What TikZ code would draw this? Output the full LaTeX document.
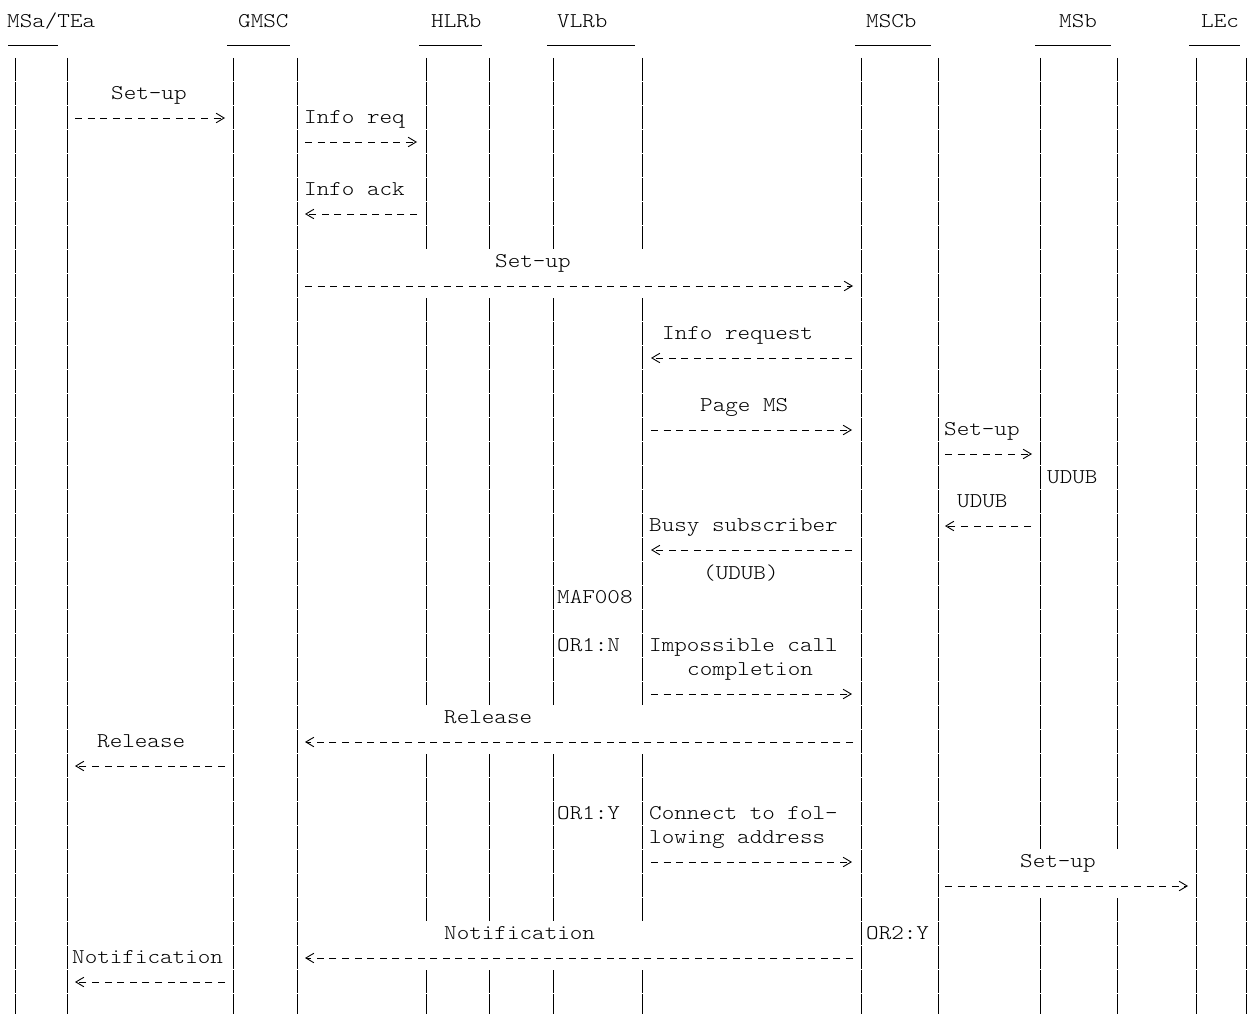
\documentclass[tikz,border=0pt]{standalone}
\usepackage{fontspec}
\usetikzlibrary{arrows.meta}
\newfontfamily\monofont[FakeStretch=1.14]{lmmonolt10-regular.otf}

\begin{document}
\begin{tikzpicture}
	[
		x=1pt, y=-1pt,
		% Make a style for the vertical lines of the columns.
		col/.style={line width=0.8pt, dash pattern=on 23pt off 1pt},
		% And one for the short rule under each heading.
		rule/.style={line width=1pt},
		% Typewriter text, placed by its baseline.
		txt/.style={anchor=base west, inner sep=0pt, font=\monofont\fontsize{21}{24}\selectfont},
		% A dashed message arrow.
		msg/.style={line width=0.9pt, dash pattern=on 7pt off 5.6pt, -{Straight Barb[length=8pt,width=9.5pt]}}
	]
	\useasboundingbox (0,0) rectangle (1247,1014);

	% Headings
	\node[txt] (msa) at (7,27.5) {MSa/TEa};
	\node[txt] (gmsc) at (238,27.5) {GMSC};
	\node[txt] (hlrb) at (431,27.5) {HLRb};
	\node[txt] (vlrb) at (557,27.5) {VLRb};
	\node[txt] (mscb) at (866,27.5) {MSCb};
	\node[txt] (msb) at (1059,27.5) {MSb};
	\node[txt] (lec) at (1201,27.5) {LEc};
	\draw[rule] (8,46) -- (58,46);
	\draw[rule] (227,46) -- (290,46);
	\draw[rule] (419,46) -- (482,46);
	\draw[rule] (547,46) -- (635,46);
	\draw[rule] (855,46) -- (931,46);
	\draw[rule] (1035,46) -- (1111,46);
	\draw[rule] (1189,46) -- (1240,46);

	% Column lines
	\draw[col] (15,58) -- (15,1014);
	\draw[col] (67,58) -- (67,1014);
	\draw[col] (233,58) -- (233,1014);
	\draw[col] (297,58) -- (297,1014);
	\draw[col] (426,58) -- (426,250) (426,298) -- (426,706) (426,754) -- (426,922) (426,970) -- (426,1014);
	\draw[col] (489,58) -- (489,250) (489,298) -- (489,706) (489,754) -- (489,922) (489,970) -- (489,1014);
	\draw[col] (553,58) -- (553,250) (553,298) -- (553,706) (553,754) -- (553,922) (553,970) -- (553,1014);
	\draw[col] (642,58) -- (642,250) (642,298) -- (642,706) (642,754) -- (642,922) (642,970) -- (642,1014);
	\draw[col] (861,58) -- (861,1014);
	\draw[col] (938,58) -- (938,1014);
	\draw[col] (1040,58) -- (1040,850) (1040,898) -- (1040,1014);
	\draw[col] (1117,58) -- (1117,850) (1117,898) -- (1117,1014);
	\draw[col] (1196,58) -- (1196,1014);
	\draw[col] (1246,58) -- (1246,1014);

	% Texts
	\node[txt] (setupa) at (111,99.5) {Set-up};
	\node[txt] (inforeq) at (304,123.5) {Info req};
	\node[txt] (infoack) at (304,195.5) {Info ack};
	\node[txt] (setupb) at (495,267.5) {Set-up};
	\node[txt] (inforequest) at (662,339.5) {Info request};
	\node[txt] (pagems) at (700,411.5) {Page MS};
	\node[txt] (setupc) at (944,435.5) {Set-up};
	\node[txt] (udubb) at (1047,483.5) {UDUB};
	\node[txt] (uduba) at (957,507.5) {UDUB};
	\node[txt] (busy) at (649,531.5) {Busy subscriber};
	\node[txt] (udubc) at (703,579.5) {(UDUB)};
	\node[txt] (maf) at (557,603.5) {MAF008};
	\node[txt] (orn) at (557,651.5) {OR1:N};
	\node[txt] (imposs) at (649,651.5) {Impossible call};
	\node[txt] (compl) at (687,675.5) {completion};
	\node[txt] (relb) at (444,723.5) {Release};
	\node[txt] (rela) at (97,747.5) {Release};
	\node[txt] (ory) at (557,819.5) {OR1:Y};
	\node[txt] (connect) at (649,819.5) {Connect to fol-};
	\node[txt] (lowing) at (649,843.5) {lowing address};
	\node[txt] (setupd) at (1020,867.5) {Set-up};
	\node[txt] (notifb) at (444,939.5) {Notification};
	\node[txt] (or2y) at (866,939.5) {OR2:Y};
	\node[txt] (notifa) at (72,963.5) {Notification};

	% Arrow ends
	\coordinate (m1a) at (75,118);   \coordinate (m1b) at (225,118);
	\coordinate (m2a) at (305,142);  \coordinate (m2b) at (417,142);
	\coordinate (m3a) at (417,214);  \coordinate (m3b) at (305,214);
	\coordinate (m4a) at (305,286);  \coordinate (m4b) at (853,286);
	\coordinate (m5a) at (852,358);  \coordinate (m5b) at (651,358);
	\coordinate (m6a) at (651,430);  \coordinate (m6b) at (852,430);
	\coordinate (m7a) at (945,454);  \coordinate (m7b) at (1032,454);
	\coordinate (m8a) at (1031,526); \coordinate (m8b) at (945,526);
	\coordinate (m9a) at (852,550);  \coordinate (m9b) at (651,550);
	\coordinate (m10a) at (651,694); \coordinate (m10b) at (852,694);
	\coordinate (m11a) at (853,742); \coordinate (m11b) at (305,742);
	\coordinate (m12a) at (225,766); \coordinate (m12b) at (75,766);
	\coordinate (m13a) at (651,862); \coordinate (m13b) at (852,862);
	\coordinate (m14a) at (945,886); \coordinate (m14b) at (1188,886);
	\coordinate (m15a) at (853,958); \coordinate (m15b) at (305,958);
	\coordinate (m16a) at (225,982); \coordinate (m16b) at (75,982);

	% Draw arrows
	\draw[msg] (m1a) -- (m1b);
	\draw[msg] (m2a) -- (m2b);
	\draw[msg] (m3a) -- (m3b);
	\draw[msg] (m4a) -- (m4b);
	\draw[msg] (m5a) -- (m5b);
	\draw[msg] (m6a) -- (m6b);
	\draw[msg] (m7a) -- (m7b);
	\draw[msg] (m8a) -- (m8b);
	\draw[msg] (m9a) -- (m9b);
	\draw[msg] (m10a) -- (m10b);
	\draw[msg] (m11a) -- (m11b);
	\draw[msg] (m12a) -- (m12b);
	\draw[msg] (m13a) -- (m13b);
	\draw[msg] (m14a) -- (m14b);
	\draw[msg] (m15a) -- (m15b);
	\draw[msg] (m16a) -- (m16b);
\end{tikzpicture}
\end{document}
